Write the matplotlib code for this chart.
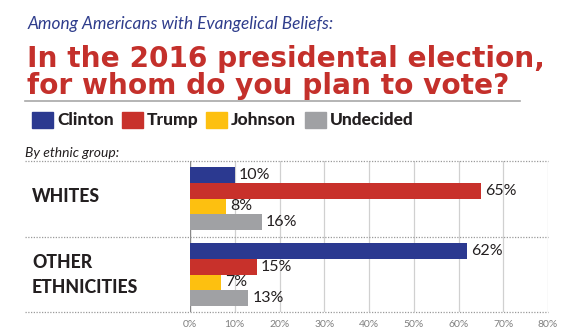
import matplotlib
matplotlib.use("Agg")
import matplotlib.pyplot as plt
from matplotlib.patches import Rectangle
import numpy as np

plt.rcParams['font.family'] = ['Lato', 'DejaVu Sans']

# ---- data ----
groups = ["WHITES", "OTHER\nETHNICITIES"]
candidates = ["Clinton", "Trump", "Johnson", "Undecided"]
whites = [10, 65, 8, 16]
others = [62, 15, 7, 13]
xticks = [0, 10, 20, 30, 40, 50, 60, 70, 80]
xticklabels = ["0%", "10%", "20%", "30%", "40%", "50%", "60%", "70%", "80%"]

colors = ["#2B3990", "#C8312B", "#FDC010", "#A0A1A4"]
title_red = "#C4302B"
navy = "#2F3D8C"

W, H = 571, 331
fig = plt.figure(figsize=(W / 100, H / 100), dpi=100)

def fx(px):
    return px / W

def fy(py):
    return 1 - py / H

# titles
fig.text(fx(28), fy(29), "Among Americans with Evangelical Beliefs:", fontsize=12.4,
         style='italic', color=navy, ha='left', va='baseline')
fig.text(fx(27), fy(67), "In the 2016 presidental election,", fontsize=20.2,
         fontweight='bold', color=title_red, ha='left', va='baseline',
         family='DejaVu Sans')
fig.text(fx(27), fy(94), "for whom do you plan to vote?", fontsize=20.2,
         fontweight='bold', color=title_red, ha='left', va='baseline',
         family='DejaVu Sans')
fig.add_artist(plt.Line2D([fx(25), fx(520)], [fy(101), fy(101)], color="#A8A8A8", lw=1.2))

# legend
leg_x = [32, 122, 206, 305]
for xs, c, lab in zip(leg_x, colors, candidates):
    fig.add_artist(Rectangle((fx(xs), fy(128)), fx(21), 16 / H, color=c,
                             transform=fig.transFigure))
    fig.text(fx(xs + 25), fy(120), lab, fontsize=12.5, fontweight='black',
             color="#231F20", ha='left', va='center')

fig.text(fx(25), fy(153), "By ethnic group:", fontsize=10, style='italic',
         color="#231F20", ha='left', va='center')

# axes
ax_left, ax_right, ax_top, ax_bot = 190, 548, 161, 311.7
ax = fig.add_axes([fx(ax_left), fy(ax_bot), fx(ax_right - ax_left), (ax_bot - ax_top) / H])

bar_h = 15.7
g_offset = 76 / bar_h
first_center = (175 - ax_top) / bar_h
pos1 = np.arange(4) + first_center
pos2 = pos1 + g_offset
ymax = (ax_bot - ax_top) / bar_h

for vals, pos in [(whites, pos1), (others, pos2)]:
    ax.barh(pos, vals, height=1.0, color=colors, zorder=3)
    for v, p in zip(vals, pos):
        ax.text(v + 0.9, p, f"{v}%", fontsize=11.5, color="#231F20",
                ha='left', va='center', zorder=4)

ax.set_xlim(0, 80)
ax.set_ylim(ymax, 0)
for s in ax.spines.values():
    s.set_visible(False)
ax.set_yticks([])
ax.set_xticks(xticks)
ax.set_xticklabels(xticklabels, fontsize=7.5, color="#808080")
ax.tick_params(axis='x', length=0, pad=6)
for t in xticks[1:]:
    ax.axvline(t, color="#D0D0D0", lw=0.9, zorder=1)
ax.axvline(0, color="#888888", lw=1.0, zorder=2)

# dotted separators
xmin_frac = (25 - ax_left) / (ax_right - ax_left)
mid = (236.7 - ax_top) / bar_h
for yv in [0, mid, ymax]:
    ax.axhline(yv, xmin=xmin_frac, xmax=1.0, color="#9A9A9A", lw=0.9,
               linestyle=(0, (1, 1.2)), clip_on=False, zorder=2)

# group labels
fig.text(fx(32), fy(197), groups[0], fontsize=12.7, fontweight='black',
         color="#231F20", ha='left', va='center')
fig.text(fx(32), fy(275), groups[1], fontsize=12.7, fontweight='black',
         color="#231F20", ha='left', va='center', linespacing=1.55)

fig.savefig("out.png", dpi=100, facecolor='white')
